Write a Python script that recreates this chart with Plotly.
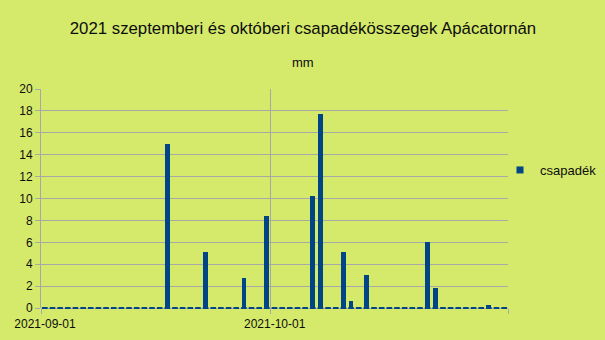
import plotly.graph_objects as go
import pandas as pd

dates = pd.date_range("2021-09-01", "2021-10-31", freq="D").strftime("%Y-%m-%d").tolist()
rain_days = ["2021-09-17", "2021-09-22", "2021-09-27", "2021-09-30", "2021-10-06",
             "2021-10-07", "2021-10-10", "2021-10-11", "2021-10-13", "2021-10-21",
             "2021-10-22", "2021-10-29"]
rain_mm = [15.0, 5.1, 2.7, 8.4, 10.2, 17.7, 5.1, 0.6, 3.0, 6.0, 1.8, 0.3]
amounts = dict(zip(rain_days, rain_mm))
values = [amounts.get(d, 0.0) for d in dates]

title_text = "2021 szeptemberi és októberi csapadékösszegek Apácatornán"
subtitle_text = "mm"
series_name = "csapadék"
x_tick_text = ["2021-09-01", "2021-10-01", ""]
x_tick_vals = ["2021-08-31 12:00", "2021-09-30 12:00", "2021-10-31 12:00"]

navy = "#004586"
grid = "#a8a8a8"
bg = "rgb(213,234,107)"
txt = "#0d0d0d"
font = "Liberation Sans, Arial, sans-serif"

L, R, T, B = 41, 97, 89, 32
PW, PH = 605 - L - R, 340 - T - B

fig = go.Figure()
fig.add_trace(go.Scatter(
    x=dates, y=[0 for v in values], mode="markers",
    marker=dict(symbol="line-ew", size=4, line=dict(color=navy, width=2)),
    showlegend=False, hoverinfo="skip", cliponaxis=False,
))
fig.add_trace(go.Bar(
    x=dates, y=values, name=series_name, showlegend=False,
    marker=dict(color=navy, line=dict(width=0)),
    width=0.62 * 86400000,
))
# legend entry with a small square key, as in the reference
fig.add_trace(go.Scatter(
    x=[None], y=[None], mode="markers", name=series_name,
    marker=dict(symbol="square", size=7, color=navy), showlegend=True,
))

fig.update_layout(
    width=605, height=340,
    paper_bgcolor=bg, plot_bgcolor=bg,
    margin=dict(l=L, r=R, t=T, b=B, autoexpand=False),
    font=dict(family=font, size=12, color=txt),
    title=dict(text=title_text, x=(303 / 605), xanchor="center", y=1 - 28 / 340, yanchor="middle",
               xref="paper" if False else "container",
               yref="container", font=dict(size=16.8, family=font, color=txt)),
    annotations=[dict(text=subtitle_text, xref="paper", yref="paper", x=(303 - L) / PW,
                      y=(308 - 63) / PH, xanchor="center", yanchor="middle",
                      showarrow=False, font=dict(size=13, family=font, color=txt))],
    showlegend=True,
    legend=dict(x=(500 - L) / PW, y=(308 - 170) / PH, xanchor="left", yanchor="middle",
                font=dict(size=13, family=font, color=txt), bgcolor="rgba(0,0,0,0)",
                itemwidth=30),
    bargap=0,
)
fig.update_xaxes(
    type="date", range=["2021-08-31 12:00", "2021-10-31 12:00"],
    tickmode="array", tickvals=x_tick_vals, ticktext=x_tick_text,
    ticks="outside", ticklen=5, tickcolor=grid, showgrid=True, gridcolor=grid, gridwidth=1,
    showline=False, zeroline=False, ticklabelshift=4,
    tickfont=dict(size=12, family=font, color=txt),
)
fig.update_yaxes(
    range=[0, 20], dtick=2, tick0=0, ticks="outside", ticklen=5, tickcolor=grid,
    showgrid=True, gridcolor=grid, gridwidth=1, showline=True, linecolor=grid, linewidth=1,
    zeroline=True, zerolinecolor=grid, zerolinewidth=1,
    tickfont=dict(size=12, family=font, color=txt),
)

fig.write_html("out.html")
